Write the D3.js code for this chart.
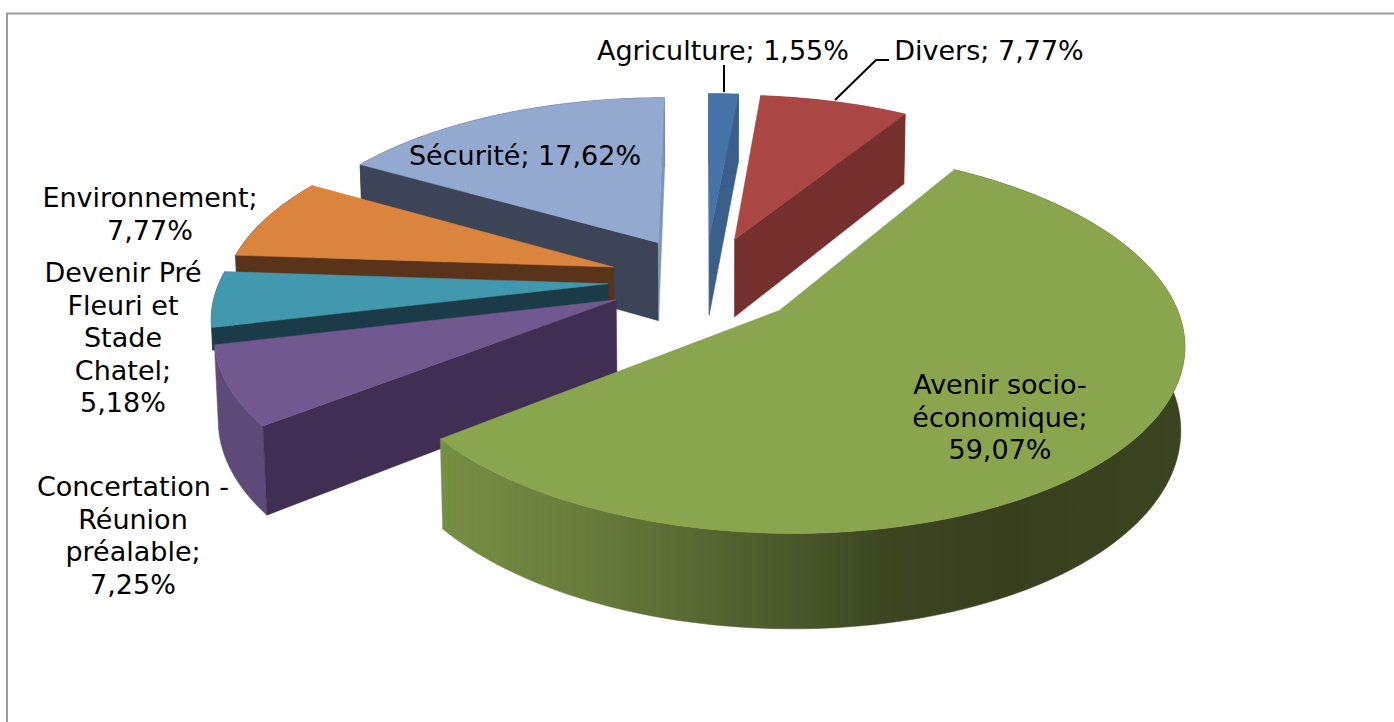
<!DOCTYPE html>
<html>
<head>
<meta charset="utf-8">
<script src="https://cdn.jsdelivr.net/npm/d3@7"></script>
<style>
html,body{margin:0;padding:0;background:#fff;overflow:hidden}
svg{display:block}
text{font-family:"DejaVu Sans",Verdana,sans-serif;fill:#000}
</style>
</head>
<body>
<svg id="chart" width="1394" height="722"></svg>
<script>
// ---- data ----
const categories = ["Agriculture","Divers","Avenir socio-économique","Concertation - Réunion préalable","Devenir Pré Fleuri et Stade Chatel","Environnement","Sécurité"];
const values = [1.55,7.77,59.07,7.25,5.18,7.77,17.62];
const labelLines = [
  ["Agriculture; 1,55%"],
  ["Divers; 7,77%"],
  ["Avenir socio-","économique;","59,07%"],
  ["Concertation -","Réunion","préalable;","7,25%"],
  ["Devenir Pré","Fleuri et","Stade","Chatel;","5,18%"],
  ["Environnement;","7,77%"],
  ["Sécurité; 17,62%"]
];
// ---- styles ----
const topColors   = ["#4573a7","#aa4644","#89a54e","#71588f","#4198af","#db843d","#93a9cf"];
const startWalls  = ["#3a5f8a","#75302e","#4e5e2c","#402f52","#1a3b47","#59331a","#3b4557"];
const endWalls    = ["#3a5f8a","#75302e","#4e5e2c","#402f52","#1a3b47","#59331a","#7f95b8"];
const outerWalls  = ["#3a5f8a","#75302e","url(#greenWall)","#5e4a78","#1a3b47","#59331a","#3b4557"];
const wallDepth   = [1,1,1,1,0.27,1,1];
const greenStopX  = [443,600,780,880,1000,1185];
const greenStopC  = ["#758f43","#667a3a","#4b5a2b","#3c4722","#36401d","#3a4420"];
const labelX = [723,989,1000,133,123,150,525];
const labelY = [60,60,394,496,282,207,165];
const lineStep = 32.6;

// ---- projection parameters ----
const Xc=705, Y0=280, Rx=388, Ry=178, K=0.155, H=81, M=0.008, EXPLODE=0.25;
const project = (u,v,z) => {
  const w = 1 - K*v + M*z;
  return [Xc + Rx*u/w, Y0 + (Ry*v + H*z)/w];
};
const rad = d => d*Math.PI/180;

const pie = d3.pie().sort(null);
const arcs = pie(values);
const svg = d3.select("#chart");
const line = d3.line();

// gradient of the big slice's rim
const grad = svg.append("defs").append("linearGradient").attr("id","greenWall")
  .attr("gradientUnits","userSpaceOnUse")
  .attr("x1",greenStopX[0]).attr("x2",greenStopX[greenStopX.length-1]).attr("y1",0).attr("y2",0);
const toOffset = d3.scaleLinear().domain(d3.extent(greenStopX)).range([0,1]);
greenStopX.forEach((x,j)=>grad.append("stop").attr("offset",toOffset(x)).attr("stop-color",greenStopC[j]));

// frame
svg.append("path").attr("d","M7,740V13.5H1400").attr("fill","none").attr("stroke","#9c9c9c").attr("stroke-width",2);

// draw order: back to front
const order = [6,5,4,3,0,1,2];
order.forEach(i=>{
  const a = arcs[i];
  const mid = (a.startAngle+a.endAngle)/2;
  const ax = EXPLODE*Math.sin(mid), ay = -EXPLODE*Math.cos(mid);
  const pt = (ang,z) => project(ax+Math.sin(ang), ay-Math.cos(ang), z);
  const apex = z => project(ax,ay,z);
  const d = wallDepth[i];
  const g = svg.append("g").attr("class","slice");
  const n = Math.max(2,Math.round((a.endAngle-a.startAngle)/rad(1.5)));
  const angs = d3.range(0,n+1).map(t=>a.startAngle+(a.endAngle-a.startAngle)*t/n);

  // rim
  const rim=[...angs.map(x=>pt(x,0)),...angs.slice().reverse().map(x=>pt(x,d))];
  g.append("path").attr("d",line(rim)+"Z").attr("fill",outerWalls[i]).attr("stroke",outerWalls[i]).attr("stroke-width",0.5);

  // radial walls – drawn only if turned to the viewer
  const wall1 = [apex(0),pt(a.startAngle,0),pt(a.startAngle,d),apex(d)];
  const wall2 = [pt(a.endAngle,0),apex(0),apex(d),pt(a.endAngle,d)];
  [[wall1,startWalls[i]],[wall2,endWalls[i]]].forEach(([p,c])=>{
    if(d3.polygonArea(p)>0) g.append("path").attr("d",line(p)+"Z").attr("fill",c).attr("stroke",c).attr("stroke-width",0.5);
  });
  // top face
  const top=[apex(0),...angs.map(x=>pt(x,0))];
  g.append("path").attr("d",line(top)+"Z").attr("fill",topColors[i]).attr("stroke",topColors[i]).attr("stroke-width",0.5);
});

// leader lines
const leaders=[[[724,65],[724,92]],[[889,60],[876,60],[835,100]]];
leaders.forEach(p=>svg.append("path").attr("d",line(p)).attr("fill","none").attr("stroke","#000").attr("stroke-width",2));

// labels
labelLines.forEach((ls,i)=>{
  const t=svg.append("text").attr("text-anchor","middle").attr("font-size",27);
  ls.forEach((s,j)=>t.append("tspan").attr("x",labelX[i]).attr("y",labelY[i]+j*lineStep).text(s));
});
</script>
</body>
</html>
